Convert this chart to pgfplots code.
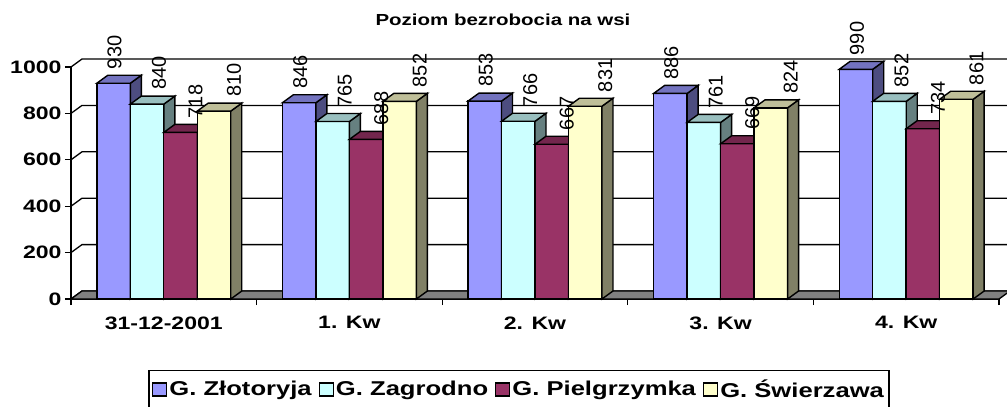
\documentclass[border=0pt]{standalone}
\usepackage{fontspec}
\setmainfont{Liberation Sans}[FakeStretch=1.28]
\newfontfamily\lblfont{Liberation Sans}
\usepackage{pgfplots}
\pgfplotsset{compat=1.18}
\usepackage{pgfplotstable}

\definecolor{sAf}{HTML}{9999FF}\definecolor{sAt}{HTML}{7373BF}\definecolor{sAs}{HTML}{4D4D80}
\definecolor{sBf}{HTML}{CCFFFF}\definecolor{sBt}{HTML}{99BFBF}\definecolor{sBs}{HTML}{668080}
\definecolor{sCf}{HTML}{993366}\definecolor{sCt}{HTML}{73264D}\definecolor{sCs}{HTML}{4D1A33}
\definecolor{sDf}{HTML}{FFFFCC}\definecolor{sDt}{HTML}{BFBF99}\definecolor{sDs}{HTML}{808066}
\definecolor{floorc}{HTML}{808080}

\pgfplotstableread{
x zl za pi sw
0 930 840 718 810
1 846 765 688 852
2 853 766 667 831
3 886 761 669 824
4 990 852 734 861
}\data

% 3D bar (front, right side, top), drawn from the top centre of its front face
\newcommand\declbar[4]{%
  \pgfdeclareplotmark{#1}{%
    \pgfmathfloatparsenumber{\barv}\pgfmathfloattofixed{\pgfmathresult}\let\bv\pgfmathresult
    \pgfkeys{/pgf/fpu=false}%
    \pgfmathsetmacro\hh{\bv*0.232}%
    \pgfsetlinewidth{1.4pt}%
    \pgfsetstrokecolor{black}%
    \pgfsetmiterjoin
    \pgfsetfillcolor{#2}%
    \pgfpathrectanglecorners{\pgfpoint{-16.75pt}{0pt}}{\pgfpoint{16.75pt}{-\hh pt}}%
    \pgfusepath{fill,stroke}%
    \pgfsetfillcolor{#4}%
    \pgfpathmoveto{\pgfpoint{16.75pt}{0pt}}%
    \pgfpathlineto{\pgfpoint{27.75pt}{8pt}}%
    \pgfpathlineto{\pgfpoint{27.75pt}{(8-\hh)*1pt}}%
    \pgfpathlineto{\pgfpoint{16.75pt}{-\hh pt}}%
    \pgfpathclose
    \pgfusepath{fill,stroke}%
    \pgfsetfillcolor{#3}%
    \pgfpathmoveto{\pgfpoint{-16.75pt}{0pt}}%
    \pgfpathlineto{\pgfpoint{16.75pt}{0pt}}%
    \pgfpathlineto{\pgfpoint{27.75pt}{8pt}}%
    \pgfpathlineto{\pgfpoint{-5.75pt}{8pt}}%
    \pgfpathclose
    \pgfusepath{fill,stroke}%
  }}
\declbar{barA}{sAf}{sAt}{sAs}
\declbar{barB}{sBf}{sBt}{sBs}
\declbar{barC}{sCf}{sCt}{sCs}
\declbar{barD}{sDf}{sDt}{sDs}

\pgfplotsset{
  sqlegend/.style={legend image code/.code={%
    \fill[##1, draw=black, line width=1.3pt] (0pt,-6.5pt) rectangle (14pt,6.5pt);}},
  front/.style={ybar, bar width=33.5pt, bar shift=0pt, draw=black, line width=1.4pt, fill=#1, sqlegend},
  faces/.style={scatter, only marks, mark=#1, forget plot, visualization depends on={y \as \barv}},
  lbl/.style={draw=none, mark=none, forget plot, point meta=explicit,
    nodes near coords,
    nodes near coords style={shift={(#1,14pt)}, rotate=90, anchor=west, inner sep=0pt,
      font=\lblfont\fontsize{20}{20}\selectfont, text=black}},
}

\begin{document}
\begin{tikzpicture}
\useasboundingbox (-71pt,-108pt) rectangle (936pt,299pt);
\begin{axis}[
  scale only axis, width=928pt, height=232pt,
  xmin=-0.5, xmax=4.5, ymin=0, ymax=1000, enlargelimits=false,
  clip=false,
  axis x line*=bottom, axis y line*=left,
  axis line style={line width=1.3pt, -},
  tick style={line width=1.3pt, black},
  tick align=outside, major tick length=6pt,
  xtick={-0.5,0.5,1.5,2.5,3.5,4.5},
  x tick label as interval,
  xticklabels={31-12-2001,1. Kw,2. Kw,3. Kw,4. Kw},
  xticklabel style={yshift=-8pt},
  ytick={0,200,400,600,800,1000},
  /pgf/number format/1000 sep={},
  /pgf/number format/assume math mode=true,
  tick label style={font=\fontsize{18}{20}\selectfont\bfseries},
  title={Poziom bezrobocia na wsi},
  title style={at={(0.4655,1)}, anchor=center, yshift=41pt, font=\fontsize{16}{18}\selectfont\bfseries},
  legend columns=4,
  legend style={at={(0.4828,-0.306)}, anchor=north, draw=black, line width=1.5pt,
    font=\fontsize{20}{22}\selectfont\bfseries, inner xsep=3pt, inner ysep=7pt,
    /tikz/every even column/.append style={column sep=5pt}},
]
% back wall grid lines and left wall edges
\pgfplotsinvokeforeach{0,200,400,600,800,1000}{
  \draw[line width=1.3pt] (axis cs:-0.5,#1) -- ++(11pt,8pt) -- ([shift={(11pt,8pt)}]axis cs:4.5,#1);
}
% floor
\fill[floorc, draw=black, line width=1.3pt] (axis cs:-0.5,0) -- (axis cs:4.5,0) -- ++(11pt,8pt)
  -- ([shift={(11pt,8pt)}]axis cs:-0.5,0) -- cycle;

\addplot[front=sAf] table[x expr=\thisrow{x}-0.2707, y=zl] \data;
\addlegendentry{G. Złotoryja}
\addplot[front=sBf] table[x expr=\thisrow{x}-0.0902, y=za] \data;
\addlegendentry{G. Zagrodno}
\addplot[front=sCf] table[x expr=\thisrow{x}+0.0902, y=pi] \data;
\addlegendentry{G. Pielgrzymka}
\addplot[front=sDf] table[x expr=\thisrow{x}+0.2707, y=sw] \data;
\addlegendentry{G. Świerzawa}

% 3D faces, drawn left to right
\addplot[faces=barA] table[x expr=\thisrow{x}-0.2707, y=zl] \data;
\addplot[faces=barB] table[x expr=\thisrow{x}-0.0902, y=za] \data;
\addplot[faces=barC] table[x expr=\thisrow{x}+0.0902, y=pi] \data;
\addplot[faces=barD] table[x expr=\thisrow{x}+0.2707, y=sw] \data;

% data labels
\addplot[lbl=1pt] table[x expr=\thisrow{x}-0.2707, y=zl, meta=zl] \data;
\addplot[lbl=12pt] table[x expr=\thisrow{x}-0.0902, y=za, meta=za] \data;
\addplot[lbl=15pt] table[x expr=\thisrow{x}+0.0902, y=pi, meta=pi] \data;
\addplot[lbl=20pt] table[x expr=\thisrow{x}+0.2707, y=sw, meta=sw] \data;
\end{axis}
\end{tikzpicture}
\end{document}
